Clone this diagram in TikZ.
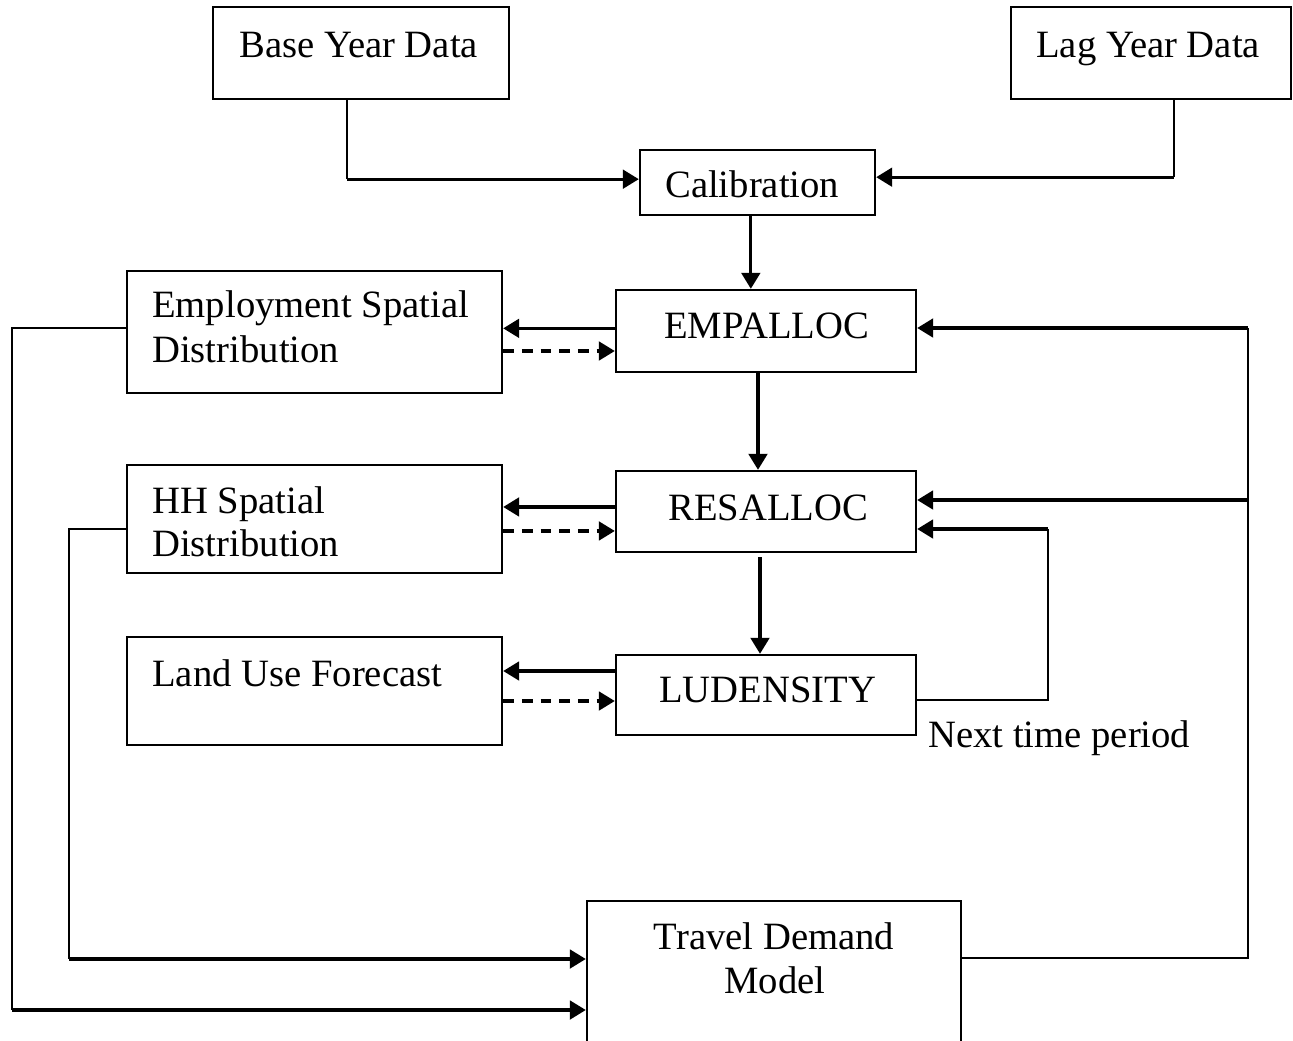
\documentclass[tikz,border=0pt]{standalone}
\usepackage{fontspec}
\setmainfont{Liberation Serif}
\usetikzlibrary{arrows.meta}
\begin{document}
\begin{tikzpicture}[x=0.75pt,y=-0.75pt,
  box/.style={draw, line width=1.8pt, rectangle, inner sep=0pt},
  txt/.style={inner sep=0pt, font=\fontsize{29}{34}\selectfont},
  arr/.style={line width=2.3pt, -{Triangle[length=12pt,width=14pt]}},
  dasharr/.style={arr, dash pattern=on 8pt off 6pt},
  plain/.style={line width=1.7pt}]
\useasboundingbox (0,0) rectangle (1293,1040);
% boxes
\node[box, minimum width=222pt, minimum height=69pt] (base) at (361,53) {};
\node[box, minimum width=210pt, minimum height=69pt] (lag) at (1151,53) {};
\node[box, minimum width=176.25pt, minimum height=48.75pt] (calib) at (757.5,182.5) {};
\node[box, minimum width=225pt, minimum height=61.5pt] (emp) at (766,331) {};
\node[box, minimum width=225pt, minimum height=60.75pt] (res) at (766,511.5) {};
\node[box, minimum width=225pt, minimum height=60pt] (lud) at (766,695) {};
\node[box, minimum width=281.25pt, minimum height=91.5pt] (empd) at (314.5,332) {};
\node[box, minimum width=281.25pt, minimum height=81pt] (hhd) at (314.5,519) {};
\node[box, minimum width=281.25pt, minimum height=81pt] (luf) at (314.5,691) {};
\node[box, minimum width=280.5pt, minimum height=111.75pt] (travel) at (774,975.5) {};
% texts
\node[txt, anchor=base west] (tbase) at (239,57) {Base Year Data};
\node[txt, anchor=base west] (tlag) at (1036,57) {Lag Year Data};
\node[txt, anchor=base west] (tcal) at (665,197) {Calibration};
\node[txt, anchor=base west] (temp) at (664,338) {EMPALLOC};
\node[txt, anchor=base west] (tres) at (668,520) {RESALLOC};
\node[txt, anchor=base west] (tlud) at (659,702) {LUDENSITY};
\node[txt, anchor=base west] (tempd1) at (152,317) {Employment Spatial};
\node[txt, anchor=base west] (tempd2) at (152,362) {Distribution};
\node[txt, anchor=base west] (thh1) at (152,513) {HH Spatial};
\node[txt, anchor=base west] (thh2) at (152,556) {Distribution};
\node[txt, anchor=base west] (tluf) at (152,686) {Land Use Forecast};
\node[txt, anchor=base west] (tnext) at (928,747) {Next time period};
\node[txt, anchor=base] (ttr1) at (774,949) {Travel Demand};
\node[txt, anchor=base] (ttr2) at (775,993) {Model};
% coordinates
\coordinate (lc1) at (12,1010);
\coordinate (lc2) at (69,959);
\coordinate (rtop) at (1248,328);
\coordinate (rmid) at (1248,500);
\coordinate (rbot) at (1248,958);
\coordinate (nt) at (1048,529);
% top connectors
\draw[plain] ([xshift=-10.5pt]base.south) -- ([xshift=-10.5pt,yshift=3pt]base.south |- calib.west);
\draw[arr] ([xshift=-10.5pt,yshift=2.5pt]base.south |- calib.west) -- ([yshift=2.5pt]calib.west);
\draw[plain] ([xshift=17pt]lag.south) -- ([xshift=17pt,yshift=4pt]lag.south |- calib.east);
\draw[arr] ([xshift=17pt,yshift=4pt]lag.south |- calib.east) -- ([yshift=4pt]calib.east);
\draw[arr] ([xshift=-5pt]calib.south) -- ([xshift=-5pt]calib.south |- emp.north);
\draw[arr] ([xshift=-6pt]emp.south) -- ([xshift=-6pt]emp.south |- res.north);
\draw[arr] ([xshift=-4.5pt,yshift=-3pt]res.south) -- ([xshift=-4.5pt]res.south |- lud.north);
% side arrows
\draw[arr] ([yshift=2pt]emp.west) -- ([yshift=2pt]emp.west -| empd.east);
\draw[dasharr] ([yshift=-15pt]emp.west -| empd.east) -- ([yshift=-15pt]emp.west);
\draw[arr] ([yshift=3.4pt]res.west) -- ([yshift=3.4pt]res.west -| hhd.east);
\draw[dasharr] ([yshift=-14.6pt]res.west -| hhd.east) -- ([yshift=-14.6pt]res.west);
\draw[arr] ([yshift=18pt]lud.west) -- ([yshift=18pt]lud.west -| luf.east);
\draw[dasharr] ([yshift=-4.5pt]lud.west -| luf.east) -- ([yshift=-4.5pt]lud.west);
% left loops to travel demand
\draw[plain] ([yshift=3pt]empd.west) -| (lc1);
\draw[arr] (lc1) -- (lc1 -| travel.west);
\draw[plain] ([yshift=-7.5pt]hhd.west) -| (lc2);
\draw[arr] (lc2) -- (lc2 -| travel.west);
% right feedback
\draw[plain] (travel.east |- rbot) -- (rbot) -- (rtop);
\draw[arr] (rtop) -- (rtop -| emp.east);
\draw[arr] (rmid) -- (rmid -| res.east);
% next time period loop
\draw[plain] ([yshift=-3.75pt]lud.east) -| (nt);
\draw[arr] (nt) -- (nt -| res.east);
\end{tikzpicture}
\end{document}
